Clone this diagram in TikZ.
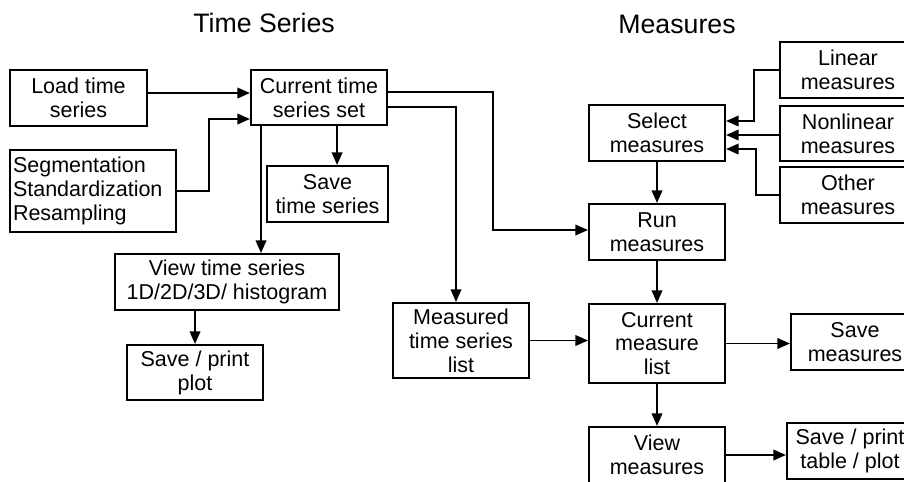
\documentclass[tikz,border=0pt]{standalone}
\usepackage{fontspec}
\setmainfont{Liberation Sans}
\usepackage{tikz}
\usetikzlibrary{arrows.meta, % for triangle tips
                calc,
                positioning}

\begin{document}
\begin{tikzpicture}[Block/.style={draw, line width=1.4pt, align=center, inner sep=1pt,
                        minimum width=3.4cm, minimum height=1.4cm,
                        font=\fontsize{15.3}{17}\selectfont},
                    Title/.style={font=\fontsize{19}{22}\selectfont},
                    flow/.style={line width=1.4pt, -{Triangle[length=9pt,width=7.5pt]}}
                    ]

    \useasboundingbox (0,0) rectangle (22.6,-12.025);

    % TITLES %
    \node[Title] (tsTitle) at (6.6,-0.575) {Time Series};
    \node[Title] (msTitle) at (16.925,-0.6) {Measures};

    % TIME SERIES %
    \node[Block, minimum width=3.425cm] (load) at (1.9625,-2.45) {Load time\\series};
    \node[Block, minimum height=1.375cm] (curr) at (7.975,-2.4375) {Current time\\series set};
    \node[Block, align=left, text width=4.0cm, inner xsep=0.075cm, minimum height=2.05cm]
        (seg) at (2.325,-4.775) {Segmentation\\Standardization\\Resampling};
    \node[Block, minimum width=3.025cm] (savets) at (8.1875,-4.85) {Save\\time series};
    \node[Block, minimum width=5.6cm] (view) at (5.675,-7.05) {View time series\\1D/2D/3D/ histogram};
    \node[Block, minimum height=1.375cm] (saveplot) at (4.875,-9.3125) {Save / print\\plot};

    % MEASURES %
    \node[Block] (select) at (16.425,-3.325) {Select\\measures};
    \node[Block] (linear) at (21.2,-1.75) {Linear\\measures};
    \node[Block, minimum height=1.375cm] (nonlin) at (21.2,-3.3375) {Nonlinear\\measures};
    \node[Block] (other) at (21.2,-4.875) {Other\\measures};
    \node[Block] (run) at (16.425,-5.8) {Run\\measures};
    \node[Block, minimum height=1.875cm] (measured) at (11.525,-8.5125) {Measured\\time series\\list};
    \node[Block, minimum height=1.975cm] (curml) at (16.425,-8.5875) {Current\\measure\\list};
    \node[Block, minimum width=3.2cm] (savem) at (21.375,-8.55) {Save\\measures};
    \node[Block] (viewm) at (16.425,-11.375) {View\\measures};
    \node[Block, minimum width=3.15cm] (saveprint) at (21.25,-11.275) {Save / print\\table / plot};

    % ARROWS %
    \draw[flow] ([yshift=0.125cm]load.east) -- ([yshift=0.125cm]load.east -| curr.west);
    \draw[flow] (seg.east) -- ++(0.8,0) |- ([yshift=-0.5375cm]curr.west);
    \draw[flow] ([xshift=0.24cm]savets.north |- curr.south) -- ([xshift=0.24cm]savets.north);
    \draw[flow] ([xshift=-1.45cm]curr.south) -- ([xshift=-1.45cm]curr.south |- view.north);
    \draw[flow] (view.south -| saveplot.north) -- (saveplot.north);
    \draw[flow] ([yshift=0.14cm]curr.east) -- ++(2.625,0) |- ([yshift=0.05cm]run.west);
    \draw[flow] ([yshift=-0.24cm]curr.east) -| ([xshift=-0.125cm]measured.north);

    \draw[flow] (linear.west) -- ++(-0.625,0) |- ([yshift=0.3cm]select.east);
    \draw[flow] ([yshift=-0.0375cm]nonlin.west) -- ([yshift=-0.0375cm]nonlin.west -| select.east);
    \draw[flow] (other.west) -- ++(-0.575,0) |- ([yshift=-0.4cm]select.east);

    \foreach \a/\b in {select/run, run/curml, curml/viewm}
    \draw[flow] (\a.south) -- (\a.south |- \b.north);

    \foreach \a/\b in {measured/curml, curml/savem, viewm/saveprint}
    \draw[flow] (\a.east) -- (\a.east -| \b.west);

\end{tikzpicture}
\end{document}
